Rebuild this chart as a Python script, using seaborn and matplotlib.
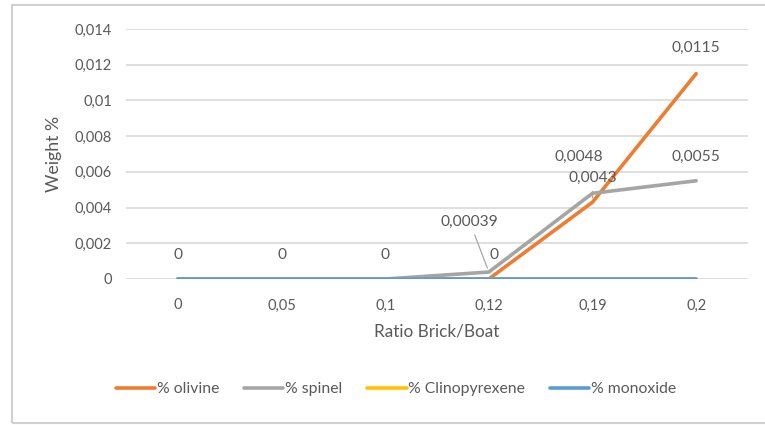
import matplotlib
matplotlib.use("Agg")
import matplotlib.pyplot as plt
import seaborn as sns
import pandas as pd
from matplotlib.lines import Line2D
from matplotlib.patches import Rectangle

categories = ["0", "0,05", "0,1", "0,12", "0,19", "0,2"]
olivine = [0, 0, 0, 0, 0.0043, 0.0115]
spinel = [0, 0, 0, 0.00039, 0.0048, 0.0055]
clinopyrexene = [0, 0, 0, 0, 0, 0]
monoxide = [0, 0, 0, 0, 0, 0]
series_names = ["% olivine", "% spinel", "% Clinopyrexene", "% monoxide"]
series_colors = ["#ED7D31", "#A5A5A5", "#FFC000", "#5B9BD5"]
ytick_vals = [0, 0.002, 0.004, 0.006, 0.008, 0.01, 0.012, 0.014]
ytick_labels = ["0", "0,002", "0,004", "0,006", "0,008", "0,01", "0,012", "0,014"]

sns.set_theme(style="white")
plt.rcParams['font.family'] = ['Lato', 'DejaVu Sans']
txt = "#595959"

rows = []
for name, vals in zip(series_names, [olivine, spinel, clinopyrexene, monoxide]):
    for i, v in enumerate(vals):
        rows.append({"x": i, "y": v, "series": name})
df = pd.DataFrame(rows)

fig = plt.figure(figsize=(7.65, 4.25), dpi=100)
ax = fig.add_axes([126/765, 1-279/425, (748-126)/765, 250/425])

sns.lineplot(data=df, x="x", y="y", hue="series", hue_order=series_names,
             palette=series_colors, linewidth=2.6, legend=False, ax=ax,
             sort=False, zorder=3)

ax.set_xlim(-0.5, len(categories) - 0.5)
ax.set_ylim(0, 0.014)
ax.set_xticks(range(len(categories)))
ax.set_xticklabels(categories)
ax.set_yticks(ytick_vals)
ax.set_yticklabels(ytick_labels)
ax.tick_params(axis="both", length=0, labelsize=10.5, colors=txt, pad=10)
ax.tick_params(axis="x", pad=14)
ax.yaxis.grid(True, color="#D9D9D9", linewidth=1.2)
ax.set_axisbelow(True)
for s in ax.spines.values():
    s.set_visible(False)
ax.set_xlabel("Ratio Brick/Boat", fontsize=12.3, color=txt, labelpad=8)
ax.set_ylabel("Weight %", fontsize=12.8, color=txt, labelpad=9)

fs = 11.2
def lab(i, vals, text, dx, dy, leader=False):
    kw = {}
    if leader:
        kw["arrowprops"] = dict(arrowstyle="-", color="#A6A6A6", lw=0.9,
                                shrinkA=2, shrinkB=3)
    ax.annotate(text, xy=(i, vals[i]), xytext=(dx, dy), textcoords="offset pixels",
                ha="center", va="center", fontsize=fs, color=txt, zorder=5, **kw)

for i in range(3):
    lab(i, monoxide, "0", 0, 24)
lab(3, olivine, "0", 5, 24)
lab(3, spinel, "0,00039", -19, 50, leader=True)
lab(4, spinel, "0,0048", -14, 36)
lab(4, olivine, "0,0043", 0, 24, leader=True)
lab(5, olivine, "0,0115", 0, 26)
lab(5, spinel, "0,0055", 0, 24)

handles = [Line2D([0], [0], color=c, lw=2.6) for c in series_colors]
fig.legend(handles, series_names, loc="center", bbox_to_anchor=(396/765, 1-389/425),
           ncol=4, frameon=False, fontsize=11.3, labelcolor=txt,
           handlelength=2.5, handletextpad=0.1, columnspacing=1.6)

fig.patches.append(Rectangle((12/765, 2/425), 1.0, 1-7/425, transform=fig.transFigure,
                             fill=False, edgecolor="#D0D0D0", linewidth=1.5))

fig.savefig("out.png", dpi=100)
